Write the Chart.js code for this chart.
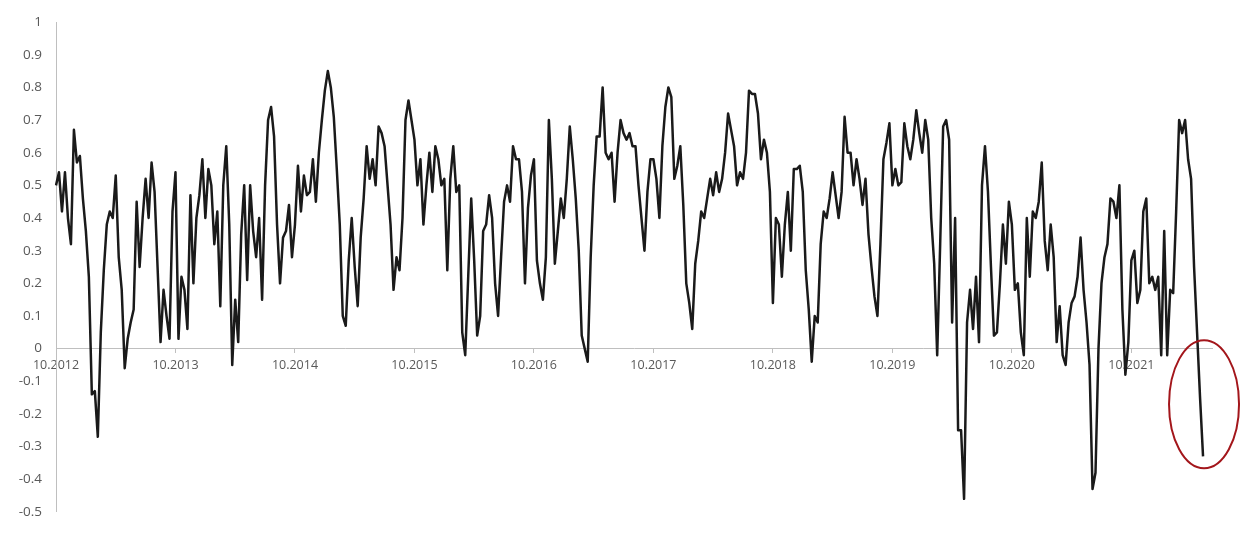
<!DOCTYPE html>
<html>
<head>
<meta charset="utf-8">
<script src="https://cdn.jsdelivr.net/npm/chart.js@4.4.1/dist/chart.umd.min.js"></script>
<style>
    html, body { margin: 0; padding: 0; background: #ffffff; }
    #wrap { width: 1254px; height: 534px; position: relative; }
</style>
</head>
<body>
<div id="wrap"><canvas id="corrChart"></canvas></div>
<script>
// ===== DATA (about 40 readings per year) =====
const tickLabels = ['10.2012', '10.2013', '10.2014', '10.2015', '10.2016',
                    '10.2017', '10.2018', '10.2019', '10.2020', '10.2021'];
const pointsPerYear = 40;
const trailingSlots = 3; // empty room after the last reading, up to the axis end

const corr2012 = [0.50, 0.54, 0.42, 0.54, 0.40, 0.32, 0.67, 0.57, 0.59, 0.46,
                  0.36, 0.22, -0.14, -0.13, -0.27, 0.05, 0.24, 0.38, 0.42, 0.40,
                  0.53, 0.28, 0.18, -0.06, 0.03, 0.08, 0.12, 0.45, 0.25, 0.40,
                  0.52, 0.40, 0.57, 0.48, 0.25, 0.02, 0.18, 0.10, 0.03, 0.42];
const corr2013 = [0.54, 0.03, 0.22, 0.18, 0.06, 0.47, 0.20, 0.40, 0.47, 0.58,
                  0.40, 0.55, 0.50, 0.32, 0.42, 0.13, 0.50, 0.62, 0.38, -0.05,
                  0.15, 0.02, 0.35, 0.50, 0.21, 0.50, 0.36, 0.28, 0.40, 0.15,
                  0.50, 0.70, 0.74, 0.65, 0.38, 0.20, 0.34, 0.36, 0.44, 0.28];
const corr2014 = [0.38, 0.56, 0.42, 0.53, 0.47, 0.48, 0.58, 0.45, 0.60, 0.70,
                  0.79, 0.85, 0.80, 0.71, 0.55, 0.38, 0.10, 0.07, 0.27, 0.40,
                  0.25, 0.13, 0.34, 0.46, 0.62, 0.52, 0.58, 0.50, 0.68, 0.66,
                  0.62, 0.50, 0.38, 0.18, 0.28, 0.24, 0.40, 0.70, 0.76, 0.70];
const corr2015 = [0.64, 0.50, 0.58, 0.38, 0.50, 0.60, 0.48, 0.62, 0.58, 0.50,
                  0.52, 0.24, 0.52, 0.62, 0.48, 0.50, 0.05, -0.02, 0.22, 0.46,
                  0.27, 0.04, 0.10, 0.36, 0.38, 0.47, 0.40, 0.20, 0.10, 0.28,
                  0.45, 0.50, 0.45, 0.62, 0.58, 0.58, 0.48, 0.20, 0.43, 0.53];
const corr2016 = [0.58, 0.27, 0.20, 0.15, 0.28, 0.70, 0.52, 0.26, 0.36, 0.46,
                  0.40, 0.52, 0.68, 0.58, 0.46, 0.30, 0.04, 0.00, -0.04, 0.28,
                  0.50, 0.65, 0.65, 0.80, 0.60, 0.58, 0.60, 0.45, 0.60, 0.70,
                  0.66, 0.64, 0.66, 0.62, 0.62, 0.50, 0.40, 0.30, 0.48, 0.58];
const corr2017 = [0.58, 0.52, 0.40, 0.62, 0.74, 0.80, 0.77, 0.52, 0.56, 0.62,
                  0.44, 0.20, 0.14, 0.06, 0.26, 0.33, 0.42, 0.40, 0.46, 0.52,
                  0.47, 0.54, 0.48, 0.52, 0.60, 0.72, 0.67, 0.62, 0.50, 0.54,
                  0.52, 0.60, 0.79, 0.78, 0.78, 0.72, 0.58, 0.64, 0.60, 0.48];
const corr2018 = [0.14, 0.40, 0.38, 0.22, 0.38, 0.48, 0.30, 0.55, 0.55, 0.56,
                  0.48, 0.24, 0.12, -0.04, 0.10, 0.08, 0.32, 0.42, 0.40, 0.46,
                  0.54, 0.47, 0.40, 0.48, 0.71, 0.60, 0.60, 0.50, 0.58, 0.52,
                  0.44, 0.52, 0.35, 0.25, 0.16, 0.10, 0.32, 0.58, 0.63, 0.69];
const corr2019 = [0.50, 0.55, 0.50, 0.51, 0.69, 0.62, 0.58, 0.64, 0.73, 0.66,
                  0.60, 0.70, 0.64, 0.40, 0.26, -0.02, 0.32, 0.68, 0.70, 0.64,
                  0.08, 0.40, -0.25, -0.25, -0.46, 0.08, 0.18, 0.06, 0.22, 0.02,
                  0.50, 0.62, 0.48, 0.25, 0.04, 0.05, 0.20, 0.38, 0.26, 0.45];
const corr2020 = [0.38, 0.18, 0.20, 0.05, -0.02, 0.40, 0.22, 0.42, 0.40, 0.45,
                  0.57, 0.33, 0.24, 0.38, 0.28, 0.02, 0.13, -0.02, -0.05, 0.08,
                  0.14, 0.16, 0.22, 0.34, 0.18, 0.08, -0.05, -0.43, -0.38, 0.00,
                  0.20, 0.28, 0.32, 0.46, 0.45, 0.40, 0.50, 0.12, -0.08, 0.02];
const corr2021 = [0.27, 0.30, 0.14, 0.18, 0.42, 0.46, 0.20, 0.22, 0.18, 0.22,
                  -0.02, 0.36, -0.02, 0.18, 0.17, 0.42, 0.70, 0.66, 0.70, 0.58,
                  0.52, 0.25, 0.05, -0.15, -0.33];

const correlation = [].concat(corr2012, corr2013, corr2014, corr2015, corr2016,
                              corr2017, corr2018, corr2019, corr2020, corr2021);

// category labels: a year label every 40 readings, blank in between
const labels = [];
for (let i = 0; i < correlation.length + trailingSlots; i++) {
    labels.push(i % pointsPerYear === 0 ? tickLabels[i / pointsPerYear] : '');
}

// red ring round the last stretch of the line
const ringPlugin = {
    id: 'ring',
    afterDatasetsDraw(chart) {
        const ctx = chart.ctx;
        const x = chart.scales.x.getPixelForValue(correlation.length - 1);
        const y = chart.scales.y.getPixelForValue(-0.17);
        ctx.save();
        ctx.beginPath();
        ctx.ellipse(x + 1, y, 35, 64, 0, 0, Math.PI * 2);
        ctx.strokeStyle = '#a3161b';
        ctx.lineWidth = 2;
        ctx.stroke();
        ctx.restore();
    }
};

const ctx = document.getElementById('corrChart');
new Chart(ctx, {
    type: 'line',
    data: {
        labels: labels,
        datasets: [{
            data: correlation,
            borderColor: '#1a1a1a',
            borderWidth: 2.5,
            borderJoinStyle: 'round',
            pointRadius: 0,
            tension: 0,
            fill: false
        }]
    },
    options: {
        responsive: true,
        maintainAspectRatio: false,
        animation: false,
        layout: {
            padding: { top: 13, right: 42, bottom: 18, left: 0 }
        },
        plugins: {
            legend: { display: false },
            tooltip: { enabled: false }
        },
        scales: {
            x: {
                position: { y: 0 },
                afterBuildTicks: function(scale) {
                    scale.ticks = scale.ticks.filter(t => t.value % pointsPerYear === 0);
                },
                grid: {
                    display: true,
                    drawOnChartArea: false,
                    drawTicks: true,
                    tickLength: 4,
                    color: '#bfbfbf'
                },
                border: { display: true, color: '#bfbfbf', width: 1 },
                ticks: {
                    autoSkip: false,
                    maxRotation: 0,
                    padding: 5,
                    color: '#595959',
                    font: { family: 'Open Sans', size: 12.5 },
                    callback: function(value) {
                        return labels[value];
                    }
                }
            },
            y: {
                min: -0.5,
                max: 1,
                afterFit: function(scale) {
                    scale.width = 56;
                },
                grid: { display: false, drawTicks: false },
                border: { display: true, color: '#bfbfbf', width: 1 },
                ticks: {
                    stepSize: 0.1,
                    padding: 14,
                    color: '#595959',
                    font: { family: 'Open Sans', size: 13.5 },
                    callback: function(value) {
                        return String(Math.round(value * 10) / 10);
                    }
                }
            }
        }
    },
    plugins: [ringPlugin]
});
</script>
</body>
</html>
